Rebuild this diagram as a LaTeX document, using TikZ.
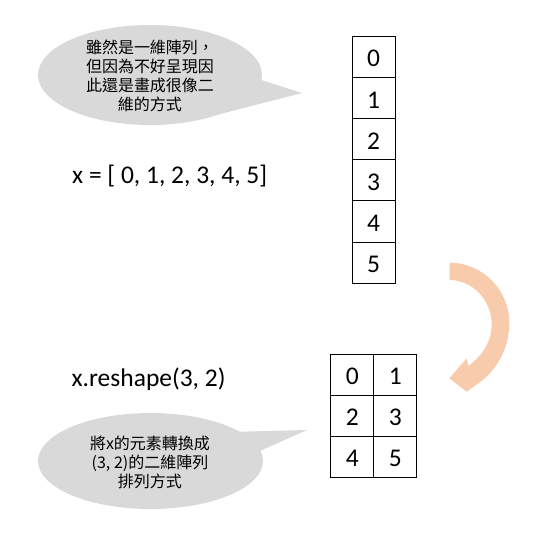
\documentclass[tikz,border=0pt]{standalone}
\usepackage{fontspec}
\setmainfont{Carlito}
\newfontfamily\cjk{Noto Sans CJK TC}
\usetikzlibrary{shapes.geometric}
\definecolor{bubblegray}{HTML}{D9D9D9}
\definecolor{peach}{HTML}{F8CBAD}
\begin{document}
\begin{tikzpicture}[x=1pt,y=-1pt,
  cell/.style={draw=black, line width=1pt, minimum width=42.7pt, minimum height=41.2pt,
    inner sep=0pt, text height=20.5pt, text depth=0pt, font=\fontsize{25.5}{30}\selectfont},
  bubble/.style={fill=bubblegray, draw=none, ellipse, inner sep=0pt},
  note/.style={font=\cjk\fontsize{16}{19}\selectfont, align=center, inner sep=0pt},
  code/.style={font=\fontsize{25.5}{30}\selectfont, anchor=base west, inner sep=0pt}]
\useasboundingbox (0,0) rectangle (533,550);

% bubble 1
\node[bubble, minimum width=224pt, minimum height=100pt] (b1) at (150,75) {};
\coordinate (t1) at (302,93);
\fill[bubblegray] (t1) -- (239.5,73) -- (214,115.6) -- cycle;
\node[note] (n1) at (150,75.5) {雖然是一維陣列，\\但因為不好呈現因\\此還是畫成很像二\\維的方式};

% bubble 2
\node[bubble, minimum width=225pt, minimum height=96pt] (b2) at (150.5,461) {};
\coordinate (t2) at (307,430);
\fill[bubblegray] (t2) -- (215,432.3) -- (234,462.5) -- cycle;
\node[note] (n2) at (150,462) {將x的元素轉換成\\(3, 2)的二維陣列\\排列方式};

% code texts
\node[code] (xdef) at (72,183.3) {x = [ 0, 1, 2, 3, 4, 5]};
\node[code] (xres) at (71.5,386.7) {x.reshape(3, 2)};

% column
\foreach \v [count=\i from 0] in {0,...,5}
  \node[cell] (c\v) at (373.65, {36+41.22*(\i+0.5)}) {\v};

% grid
\tikzset{gcell/.style={cell, minimum width=42.85pt, minimum height=41pt}}
\node[gcell] (g0) at (352.4,374.5) {0};
\node[gcell] (g1) at (395.25,374.5) {1};
\node[gcell] (g2) at (352.4,415.5) {2};
\node[gcell] (g3) at (395.25,415.5) {3};
\node[gcell] (g4) at (352.4,456.5) {4};
\node[gcell] (g5) at (395.25,456.5) {5};

% curved arrow
\fill[peach] (449.5,262.7) .. controls (482.6,262.7) and (509.3,290) .. (509.3,323)
  .. controls (509.3,350) and (495,372) .. (478.3,383.3)
  -- (466.7,391.7) -- (449.3,378.3) -- (466.7,358.3) -- (468.3,366)
  .. controls (482,356) and (491.7,342) .. (491.7,324)
  .. controls (491.7,300.6) and (472.9,280) .. (449.5,280) -- cycle;
\end{tikzpicture}
\end{document}
